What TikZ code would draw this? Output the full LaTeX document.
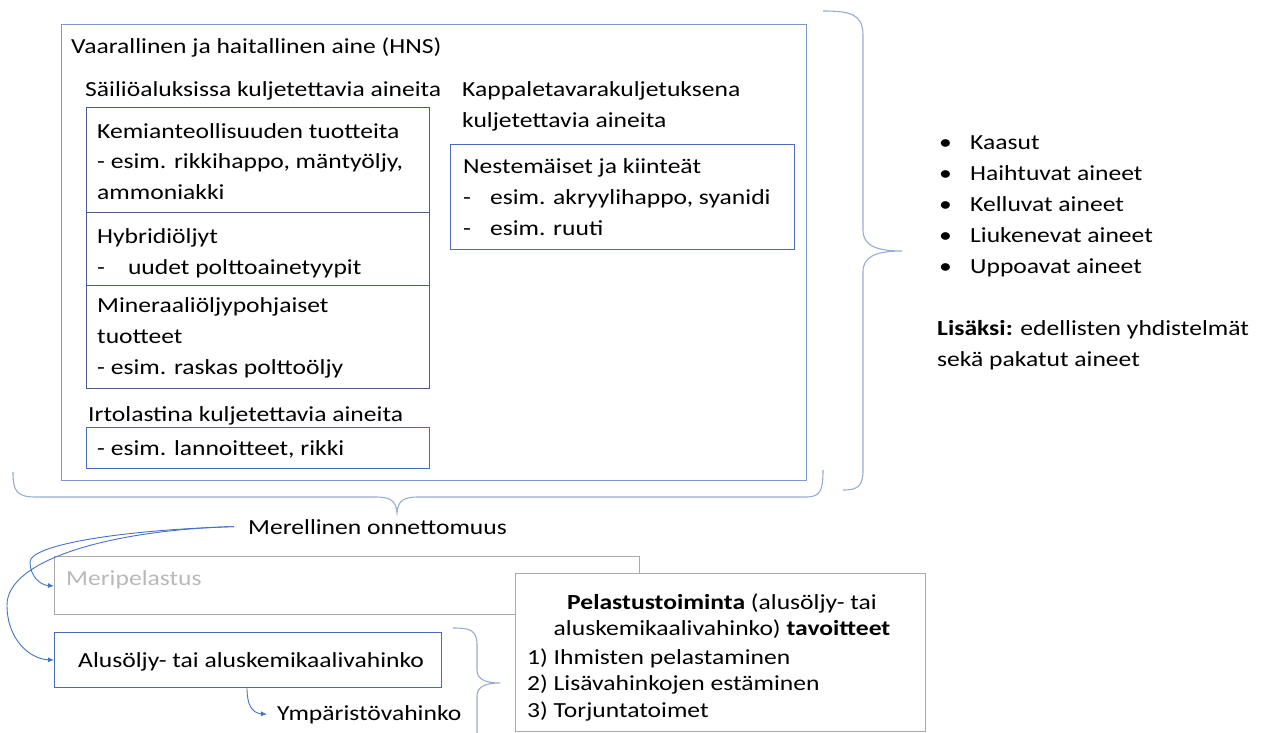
\documentclass[tikz,border=0pt]{standalone}
\usepackage{fontspec}
\setmainfont{Carlito}[FakeStretch=1.19]
\usetikzlibrary{arrows.meta,calc}
\definecolor{mainline}{RGB}{125,152,205}
\definecolor{innerline}{RGB}{72,108,185}
\definecolor{stackline}{RGB}{75,92,135}
\definecolor{braceline}{RGB}{150,172,210}
\definecolor{grayline}{RGB}{170,170,170}
\definecolor{graytext}{RGB}{185,185,185}
\definecolor{arrowblue}{RGB}{68,114,196}
\newcommand\myfs{\fontsize{21.5}{31}\selectfont}
\newcommand\myfsb{\fontsize{21.5}{26.5}\selectfont}
\begin{document}
\begin{tikzpicture}[x=1pt,y=-1pt,
  txt/.style={inner sep=0pt, anchor=base west, font=\myfs, align=left},
  mainbox/.style={draw=mainline, line width=1.1pt, anchor=north west, inner sep=0pt},
  ibox/.style={draw=innerline, line width=1.1pt, anchor=north west, inner sep=0pt},
  sbox/.style={draw=stackline, line width=1.2pt, anchor=north west, inner sep=0pt},
  gbox/.style={draw=grayline, line width=1.1pt, anchor=north west, inner sep=0pt},
  brace/.style={draw=braceline, line width=1.1pt},
  arr/.style={draw=arrowblue, line width=0.9pt, -{Latex[length=6pt,width=5pt]}}]
\useasboundingbox (0,0) rectangle (1262,733);

% main HNS box
\node[mainbox, minimum width=745pt, minimum height=456pt] (hns) at (61,24) {};
\node[txt] (title) at (71,54) {Vaarallinen ja haitallinen aine (HNS)};
\node[txt] (sail) at (85,97) {Säiliöaluksissa kuljetettavia aineita};

\node[sbox, minimum width=343pt, minimum height=105pt] (kem) at (86,107) {};
\node[sbox, minimum width=343pt, minimum height=73pt] (hyb) at (86,212) {};
\node[sbox, minimum width=343pt, minimum height=103pt] (min) at (86,285) {};
\node[txt] (kemt) at (97,200) {Kemianteollisuuden tuotteita\\- esim. rikkihappo, mäntyöljy,\\ammoniakki};
\node[txt] (hybt) at (97,274) {Hybridiöljyt\\-\hspace{23pt}uudet polttoainetyypit};
\node[txt] (mint) at (97,374) {Mineraaliöljypohjaiset\\tuotteet\\- esim. raskas polttoöljy};

\node[txt] (irt) at (88,421) {Irtolastina kuljetettavia aineita};
\node[ibox, minimum width=343pt, minimum height=41pt] (irtb) at (86,427) {};
\node[txt] (irtt) at (97,455) {- esim. lannoitteet, rikki};

\node[txt] (kap) at (462,128) {Kappaletavarakuljetuksena\\kuljetettavia aineita};
\node[ibox, minimum width=344pt, minimum height=105pt] (nestb) at (450,144) {};
\node[txt] (nest) at (463,235) {Nestemäiset ja kiinteät\\-\hspace{19pt}esim. akryylihappo, syanidi\\-\hspace{19pt}esim. ruuti};

% right list
\node[txt] (list) at (939,273) {\makebox[31pt][l]{•}Kaasut\\\makebox[31pt][l]{•}Haihtuvat aineet\\\makebox[31pt][l]{•}Kelluvat aineet\\\makebox[31pt][l]{•}Liukenevat aineet\\\makebox[31pt][l]{•}Uppoavat aineet};
\node[txt] (lisa) at (937,366) {\textbf{Lisäksi:} edellisten yhdistelmät\\sekä pakatut aineet};

% braces
\draw[brace] (823,11) .. controls (850,11) and (863,14) .. (863,35) -- (863,230)
  .. controls (863,245) and (875,251) .. (902,251)
  .. controls (875,251) and (863,257) .. (863,272) -- (863,470)
  .. controls (863,486) and (858,490) .. (843,490);
\draw[brace] (13,472) .. controls (13,490) and (16,497) .. (35,497) -- (375,497)
  .. controls (390,497) and (396,500) .. (397,513)
  .. controls (398,500) and (404,497) .. (419,497) -- (805,497)
  .. controls (820,497) and (823,492) .. (823,470);

% lower part
\node[txt] (merel) at (248,534) {Merellinen onnettomuus};
\node[gbox, minimum width=585pt, minimum height=58pt] (meri) at (54,556) {};
\node[txt, text=graytext] (merit) at (66,585) {Meripelastus};

\node[ibox, minimum width=387pt, minimum height=55pt] (alus) at (54,632) {};
\node[txt] (alust) at (78,667) {Alusöljy- tai aluskemikaalivahinko};
\node[txt] (ymp) at (277,720) {Ympäristövahinko};

\draw[brace] (453,628) .. controls (470,628) and (477,630) .. (477,645) -- (477,670)
  .. controls (477,679) and (485,683) .. (500,683)
  .. controls (485,683) and (477,687) .. (477,696) -- (477,735);

\node[gbox, fill=white, minimum width=410pt, minimum height=158pt] (pel) at (515,573) {};
\node[inner sep=0pt, anchor=base, font=\myfsb, align=center] (pelt) at (722,635.5)
  {\textbf{Pelastustoiminta} (alusöljy- tai\\aluskemikaalivahinko) \textbf{tavoitteet}};
\node[inner sep=0pt, anchor=base west, font=\myfsb, align=left] (pell) at (527,717)
  {1) Ihmisten pelastaminen\\2) Lisävahinkojen estäminen\\3) Torjuntatoimet};

% connectors
\draw[arr] ($(merel.west)+(-14,0)$) .. controls (120,530) and (30,545) .. (30,562)
  .. controls (30,576) and (40,585) .. ($(meri.north west)+(0,30)$);
\draw[arr] ($(merel.west)+(-14,0)$) .. controls (110,530) and (7,560) .. (7,605)
  .. controls (7,640) and (30,659) .. (alus.west);
\draw[arr] ($(alus.south west)+(193,0)$) .. controls (247,705) and (252,713) .. ($(ymp.west)+(-10,0)$);
\end{tikzpicture}
\end{document}
